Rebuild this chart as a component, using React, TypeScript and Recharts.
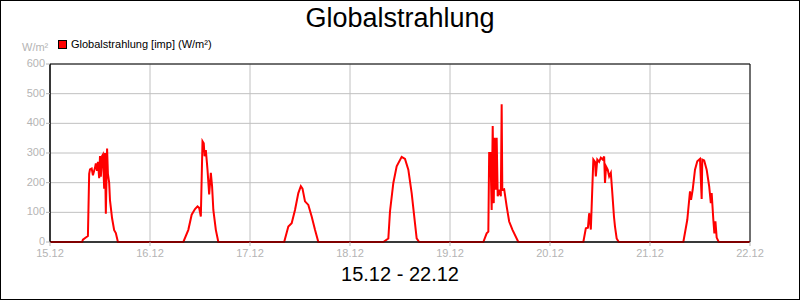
import React from 'react'
import {
  LineChart,
  Line,
  XAxis,
  YAxis,
  CartesianGrid,
  ReferenceArea
} from 'recharts'

// Stunde des Tages, W/m²
const day1512 = [
  [0, 0], [7.7, 0], [7.9, 8], [8.6, 15], [9.1, 20], [9.4, 230], [9.6, 245], [10.0, 248],
  [10.3, 225], [10.8, 250], [11.0, 265], [11.3, 240], [11.5, 270], [11.8, 215], [12.0, 290],
  [12.2, 220], [12.5, 290], [12.7, 295], [13.0, 180], [13.2, 300], [13.4, 95], [13.7, 315],
  [13.9, 230], [14.2, 200], [14.4, 140], [14.9, 80], [15.4, 40], [15.8, 30], [16.3, 0]
]
const day1612 = [
  [8.0, 0], [9.2, 41], [10.0, 92], [10.8, 111], [11.4, 120], [11.8, 115], [12.2, 86],
  [12.6, 340], [12.9, 333], [13.1, 289], [13.4, 310], [13.8, 244], [14.2, 160], [14.6, 233],
  [14.9, 188], [15.2, 108], [15.8, 41], [16.4, 0]
]
const day1712 = [
  [8.2, 0], [9.2, 52], [10.0, 63], [10.8, 108], [11.6, 165], [12.2, 188], [12.6, 180],
  [13.2, 137], [14.0, 125], [14.8, 86], [15.6, 41], [16.4, 0]
]
const day1812 = [
  [8.0, 0], [9.2, 12], [9.6, 103], [10.4, 199], [11.2, 255], [12.4, 287], [13.2, 280],
  [14.0, 244], [14.8, 165], [15.6, 63], [16.0, 12], [16.6, 0]
]
const day1912 = [
  [8.0, 0], [8.8, 29], [9.2, 35], [9.4, 300], [9.7, 300], [10.0, 108], [10.25, 391],
  [10.5, 131], [10.7, 351], [11.0, 176], [11.2, 351], [11.45, 154], [11.8, 176], [12.2, 154],
  [12.4, 464], [12.55, 176], [13.0, 178], [13.6, 120], [14.2, 69], [15.0, 41], [16.4, 0]
]
const day2012 = [
  [8.0, 0], [8.6, 46], [9.1, 48], [9.4, 97], [9.8, 42], [10.0, 120], [10.4, 278], [10.8, 270],
  [11.0, 221], [11.35, 278], [11.8, 270], [12.2, 284], [12.65, 278], [13.0, 288], [13.2, 199],
  [13.45, 255], [13.85, 244], [14.2, 221], [14.6, 233], [14.9, 176], [15.35, 86], [15.6, 52],
  [16.0, 12], [16.5, 0]
]
const day2112 = [
  [8.0, 0], [8.95, 75], [9.6, 171], [9.85, 142], [10.25, 177], [10.8, 244], [11.35, 272],
  [12.0, 280], [12.4, 145], [12.55, 278], [13.0, 275], [13.6, 244], [14.2, 188], [14.6, 131],
  [14.8, 165], [15.2, 75], [15.45, 29], [15.7, 70], [16.0, 15], [16.5, 0], [24, 0]
]

const days = [day1512, day1612, day1712, day1812, day1912, day2012, day2112]
const xTickLabels = ['15.12', '16.12', '17.12', '18.12', '19.12', '20.12', '21.12', '22.12']
const yTicks = [0, 100, 200, 300, 400, 500, 600]

const data = days.flatMap((d, i) => d.map(([h, v]) => ({ t: i * 24 + h, v })))
const xTicks = xTickLabels.map((_, i) => i * 24)

const font = '"Liberation Sans", Arial, sans-serif'
const grey = '#b4b4b4'

export default function App() {
  return (
    <div
      style={{
        position: 'absolute',
        left: 0,
        top: 0,
        width: 800,
        height: 300,
        border: '1px solid #000',
        boxSizing: 'border-box',
        background: '#fff',
        fontFamily: font
      }}
    >
      <div style={{ position: 'absolute', top: 2, width: '100%', textAlign: 'center', fontSize: 27 }}>
        Globalstrahlung
      </div>
      <div style={{ position: 'absolute', top: 40, left: 21, fontSize: 11, color: grey }}>W/m²</div>
      <div
        style={{
          position: 'absolute',
          top: 37,
          left: 57,
          display: 'flex',
          alignItems: 'center',
          fontSize: 11
        }}
      >
        <span
          style={{
            display: 'inline-block',
            width: 7,
            height: 7,
            background: '#ff0000',
            border: '1px solid #000',
            marginRight: 4
          }}
        />
        Globalstrahlung [imp] (W/m²)
      </div>
      <div style={{ position: 'absolute', top: 262, width: '100%', textAlign: 'center', fontSize: 20 }}>
        15.12 - 22.12
      </div>
      <LineChart
        width={798}
        height={298}
        data={data}
        margin={{ top: 63, right: 49, left: 0, bottom: 27 }}
      >
        <CartesianGrid stroke='#c0c0c0' horizontalValues={yTicks} verticalValues={xTicks} />
        <XAxis
          dataKey='t'
          type='number'
          domain={[0, 168]}
          ticks={xTicks}
          tickFormatter={(t: number) => xTickLabels[t / 24]}
          axisLine={{ stroke: '#000' }}
          tickLine={{ stroke: grey }}
          tickSize={4}
          tickMargin={3}
          tick={{ fill: grey, fontSize: 11, fontFamily: font }}
          height={30}
          interval={0}
        />
        <YAxis
          type='number'
          domain={[0, 600]}
          ticks={yTicks}
          axisLine={{ stroke: '#000' }}
          tickLine={{ stroke: grey }}
          tickSize={4}
          tickMargin={1}
          tick={{ fill: grey, fontSize: 11, fontFamily: font, dy: -1 }}
          width={49}
          interval={0}
        />
        <ReferenceArea x1={0} x2={168} y1={0} y2={600} fill='none' stroke='#000' strokeWidth={1} />
        <Line
          type='linear'
          dataKey='v'
          stroke='#ff0000'
          strokeWidth={2}
          dot={false}
          isAnimationActive={false}
        />
      </LineChart>
    </div>
  )
}
